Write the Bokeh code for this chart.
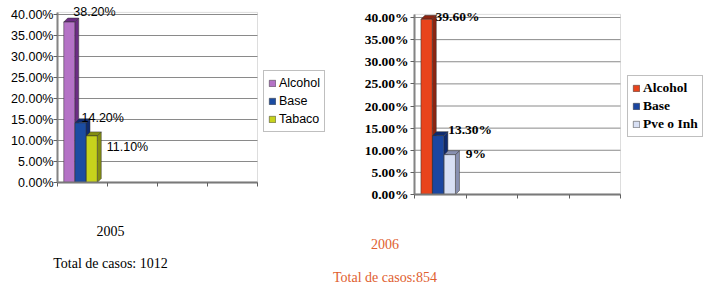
from bokeh.plotting import figure
from bokeh.layouts import row
from bokeh.models import (ColumnDataSource, Range1d, FixedTicker, PrintfTickFormatter,
                          Legend, LegendItem, Label, LinearAxis, BoxAnnotation)
from bokeh.core.properties import value
from bokeh.embed import file_html
from bokeh.resources import INLINE
import numpy as np

# ---- data ----
series_2005 = ["Alcohol", "Base", "Tabaco"]
values_2005 = [38.2, 14.2, 11.1]
labels_2005 = ["38.20%", "14.20%", "11.10%"]
colors_2005 = ["#b472c6", "#1b4ca2", "#c6d21c"]
sides_2005 = ["#6c2c84", "#0e2a70", "#848e10"]

series_2006 = ["Alcohol", "Base", "Pve o Inh"]
values_2006 = [39.6, 13.3, 9.0]
labels_2006 = ["39.60%", "13.30%", "9%"]
colors_2006 = ["#e8441c", "#1b46a0", "#d8e0f4"]
sides_2006 = ["#8c2410", "#0e2a70", "#8890b0"]

year_titles = ["2005", "2006"]
totals = ["Total de casos: 1012", "Total de casos:854"]
y_ticks = [0, 5, 10, 15, 20, 25, 30, 35, 40]
slot_ticks = [0, 1, 2, 3, 4]

H = 288


def make_chart(series, vals, labs, cols, sides, width, x0px, xscale, y0px, yscale, wall_top,
               tick_font, tick_style, tick_size, standoff, lab_offsets, legend_loc, legend_font,
               legend_style, legend_size, year, total, title_color, title_px):
    # frame covers the whole figure; ranges map the chart's plot area to its place
    xr = Range1d(-x0px / xscale, (width - x0px) / xscale)
    yr = Range1d(-(H - y0px) / yscale, y0px / yscale)
    p = figure(width=width, height=H, output_backend="svg", toolbar_location=None,
               x_range=xr, y_range=yr, x_axis_location=None, y_axis_location=None,
               min_border=0)
    p.background_fill_color = "white"
    p.border_fill_color = "white"
    p.outline_line_color = None
    p.grid.visible = False

    # back wall outline and gridlines
    p.add_layout(BoxAnnotation(left=0, right=4, bottom=0, top=wall_top, fill_alpha=0,
                               line_color="#909090", line_width=1))
    p.segment(x0=0, x1=4, y0=y_ticks, y1=y_ticks, line_color="#8a8a8a", line_width=1)

    n = len(vals)
    bw = 0.22
    centers = 0.46 + (np.arange(n) - 1) * 0.225
    v = np.array(vals, dtype=float)
    dx = 4.0 / xscale
    dy = 4.0 / yscale
    for i in range(n):
        xa, xb = centers[i] - bw / 2, centers[i] + bw / 2
        y1 = v[i]
        p.patch([xb, xb + dx, xb + dx, xb], [0, dy, y1 + dy, y1],
                fill_color=sides[i], line_color="#303030", line_width=0.5)
        p.patch([xa, xa + dx, xb + dx, xb], [y1, y1 + dy, y1 + dy, y1],
                fill_color=sides[i], line_color="#303030", line_width=0.5)
    src = ColumnDataSource(dict(x=centers, top=v, c=cols, name=series, lab=labs,
                                xo=[o[0] for o in lab_offsets], yo=[o[1] for o in lab_offsets]))
    bars = p.vbar(x="x", top="top", width=bw, bottom=0, fill_color="c", line_color="#303030",
                  line_width=0.5, source=src)

    p.text(x="x", y="top", text="lab", x_offset="xo", y_offset="yo", source=src,
           text_font=value(tick_font), text_font_style=tick_style, text_font_size=tick_size,
           text_baseline="middle", text_align="left", text_color="black")

    # axes
    yax = LinearAxis(fixed_location=0, bounds=(0, wall_top))
    yax.ticker = FixedTicker(ticks=y_ticks)
    yax.formatter = PrintfTickFormatter(format="%.2f%%")
    yax.major_label_text_font = tick_font
    yax.major_label_text_font_style = tick_style
    yax.major_label_text_font_size = tick_size
    yax.major_label_text_color = "black"
    yax.major_label_standoff = standoff
    yax.major_tick_out = 4
    yax.major_tick_in = 0
    yax.minor_tick_line_color = None
    yax.axis_line_color = "#808080"
    yax.axis_line_width = 2
    yax.major_tick_line_color = "#606060"
    p.add_layout(yax, "left")

    xax = LinearAxis(fixed_location=0, bounds=(0, 4))
    xax.ticker = FixedTicker(ticks=slot_ticks)
    xax.major_label_overrides = {t: "" for t in slot_ticks}
    xax.major_tick_out = 4
    xax.major_tick_in = 0
    xax.minor_tick_line_color = None
    xax.axis_line_color = "#707070"
    xax.axis_line_width = 2
    xax.major_tick_line_color = "#606060"
    p.add_layout(xax, "below")

    # legend (one entry per bar)
    items = [LegendItem(label=series[i], renderers=[bars], index=i) for i in range(n)]
    leg = Legend(items=items, location=legend_loc, orientation="vertical")
    leg.label_text_font = legend_font
    leg.label_text_font_style = legend_style
    leg.label_text_font_size = legend_size
    leg.label_text_color = "black"
    leg.glyph_width = 8
    leg.glyph_height = 8
    leg.label_height = 16
    leg.label_standoff = 3
    leg.spacing = 2
    leg.padding = 4
    leg.margin = 0
    leg.border_line_color = "#808080"
    leg.border_line_width = 1
    leg.background_fill_color = "white"
    p.add_layout(leg, "center")

    # titles below the chart
    tx = (title_px[0] - x0px) / xscale
    for txt, ypx in ((year, title_px[1]), (total, title_px[2])):
        p.add_layout(Label(x=tx, y=(y0px - ypx) / yscale, text=txt, text_align="center",
                           text_baseline="middle", text_font="Liberation Serif",
                           text_font_size="14px", text_color=title_color))
    return p


p1 = make_chart(series_2005, values_2005, labels_2005, colors_2005, sides_2005,
                width=330, x0px=57, xscale=50.0, y0px=182, yscale=4.2, wall_top=40.5,
                tick_font="Liberation Sans", tick_style="normal", tick_size="12.5px", standoff=0,
                lab_offsets=[(4, -10), (1, -5), (15, 11)],
                legend_loc=(263, 156), legend_font="Liberation Sans", legend_style="normal",
                legend_size="12.5px", year=year_titles[0], total=totals[0],
                title_color="black", title_px=(110, 230, 263))

p2 = make_chart(series_2006, values_2006, labels_2006, colors_2006, sides_2006,
                width=373, x0px=84, xscale=51.5, y0px=194, yscale=4.425, wall_top=40.7,
                tick_font="Liberation Serif", tick_style="bold", tick_size="13.5px", standoff=2,
                lab_offsets=[(9, -3), (10, -6), (16, -1)],
                legend_loc=(297, 151), legend_font="Liberation Serif", legend_style="bold",
                legend_size="13.5px", year=year_titles[1], total=totals[1],
                title_color="#e0602f", title_px=(54.5, 243, 277))

layout = row(p1, p2)
open("out.html", "w").write(file_html(layout, INLINE))
